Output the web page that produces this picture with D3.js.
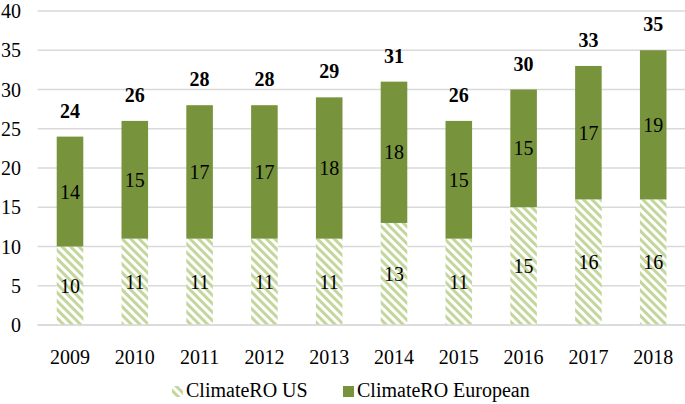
<!DOCTYPE html>
<html><head><meta charset="utf-8">
<script src="https://cdn.jsdelivr.net/npm/d3@7"></script>
<style>body{margin:0;background:#fff}</style>
</head><body>
<svg id="c" width="685" height="404"></svg>
<script>
const years = ["2009","2010","2011","2012","2013","2014","2015","2016","2017","2018"];
const usValues = [10,11,11,11,11,13,11,15,16,16];
const euValues = [14,15,17,17,18,18,15,15,17,19];
const totals = [24,26,28,28,29,31,26,30,33,35];
const yTicks = [0,5,10,15,20,25,30,35,40];
const seriesNames = ["ClimateRO US","ClimateRO European"];

const svg = d3.select("#c");
const L = 37.6, R = 685.6, T = 11, B = 325;
const x = d3.scaleBand().domain(years).range([L, R]).paddingInner(0.59).paddingOuter(0.295);
const y = d3.scaleLinear().domain([0, 40]).range([B, T]);
const fs = 20;
const F = "Liberation Serif";

const defs = svg.append("defs");
const pat = defs.append("pattern").attr("id","hatch").attr("patternUnits","userSpaceOnUse")
  .attr("width",6).attr("height",6).attr("patternTransform","rotate(-45)");
pat.append("rect").attr("width",6).attr("height",6).attr("fill","#fff");
pat.append("rect").attr("width",3).attr("height",6).attr("fill","#c3d69b");

// grid
svg.selectAll(".grid").data(yTicks).join("line").attr("class","grid")
  .attr("x1", L).attr("x2", R).attr("y1", d => y(d)).attr("y2", d => y(d))
  .attr("stroke", "#d9d9d9").attr("stroke-width", 1.3);

// y tick labels (from scale)
svg.selectAll(".ytl").data(yTicks).join("text").attr("class","ytl")
  .attr("x", 21).attr("y", d => y(d) + 7).attr("text-anchor","end")
  .attr("font-family", F).attr("font-size", fs).text(d => d3.format("d")(d));

// bars
svg.selectAll(".us").data(years).join("rect").attr("class","us")
  .attr("x", d => x(d)).attr("width", x.bandwidth())
  .attr("y", (d,i) => y(usValues[i])).attr("height", (d,i) => y(0) - y(usValues[i]))
  .attr("fill", "url(#hatch)");
svg.selectAll(".eu").data(years).join("rect").attr("class","eu")
  .attr("x", d => x(d)).attr("width", x.bandwidth())
  .attr("y", (d,i) => y(usValues[i] + euValues[i])).attr("height", (d,i) => y(usValues[i]) - y(usValues[i] + euValues[i]))
  .attr("fill", "#77933c");

// x axis line
svg.append("line").attr("x1", L).attr("x2", R).attr("y1", y(0)).attr("y2", y(0))
  .attr("stroke", "#d9d9d9").attr("stroke-width", 1.3);

const cx = d => x(d) + x.bandwidth() / 2;
// x labels
svg.selectAll(".xtl").data(years).join("text").attr("class","xtl")
  .attr("x", cx).attr("y", y(0) + 39).attr("text-anchor","middle")
  .attr("font-family", F).attr("font-size", fs).text(d => d);

// value labels
svg.selectAll(".ul").data(years).join("text").attr("class","ul")
  .attr("x", cx).attr("y", (d,i) => y(usValues[i] / 2) + 7).attr("text-anchor","middle")
  .attr("font-family", F).attr("font-size", fs).text((d,i) => usValues[i]);
svg.selectAll(".el").data(years).join("text").attr("class","el")
  .attr("x", cx).attr("y", (d,i) => y(usValues[i] + euValues[i] / 2) + 7).attr("text-anchor","middle")
  .attr("font-family", F).attr("font-size", fs).text((d,i) => euValues[i]);
svg.selectAll(".tl").data(years).join("text").attr("class","tl")
  .attr("x", cx).attr("y", (d,i) => y(usValues[i] + euValues[i]) - 19).attr("text-anchor","middle")
  .attr("font-family", F).attr("font-size", fs).attr("font-weight","bold").text((d,i) => totals[i]);

// legend
const fills = ["url(#hatch)", "#77933c"];
const lx = [172, 343];
svg.selectAll(".lsw").data(seriesNames).join("rect").attr("class","lsw")
  .attr("x", (d,i) => lx[i]).attr("y", 386).attr("width", 11).attr("height", 11).attr("fill", (d,i) => fills[i]);
svg.selectAll(".ltx").data(seriesNames).join("text").attr("class","ltx")
  .attr("x", (d,i) => lx[i] + 14).attr("y", 397)
  .attr("font-family", F).attr("font-size", fs).text(d => d);
</script>
</body></html>
